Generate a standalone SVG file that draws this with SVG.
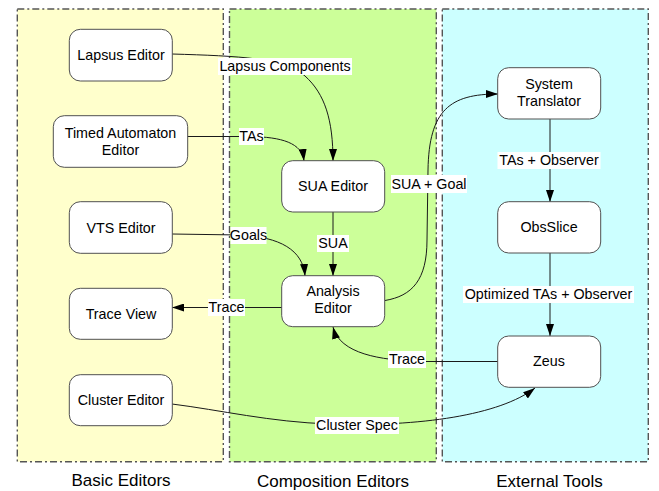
<svg xmlns="http://www.w3.org/2000/svg" width="659" height="491" viewBox="0 0 659 491">
  <style>
    .lane { stroke: #555555; stroke-width: 1.4; stroke-dasharray: 7 3 2 3; }
    .node rect { fill: #ffffff; stroke: #505050; stroke-width: 1; }
    text { font-family: "Liberation Sans", Arial, sans-serif; fill: #000; }
    .nt { font-size: 14.3px; text-anchor: middle; }
    .lt { font-size: 14.3px; text-anchor: middle; }
    .lane-title { font-size: 17px; text-anchor: middle; }
    .edge { fill: none; stroke: #1a1a1a; stroke-width: 1; marker-end: url(#arr); }
    .lbg { fill: #ffffff; }
  </style>
  <defs>
    <marker id="arr" viewBox="0 0 12 8" refX="12" refY="4" markerWidth="12" markerHeight="8" markerUnits="userSpaceOnUse" orient="auto">
      <path d="M0,0 L12,4 L0,8 z" fill="#000"/>
    </marker>
  </defs>

  <rect width="659" height="491" fill="#ffffff"/>

  <!-- swimlanes -->
  <g id="lanes">
    <rect class="lane" x="17.3" y="9" width="206" height="452.7" fill="#ffffcc"/>
    <rect class="lane" x="229.5" y="9" width="206.8" height="452.7" fill="#ccff99"/>
    <rect class="lane" x="442.3" y="9" width="206" height="452.7" fill="#ccffff"/>
    <text class="lane-title" x="121" y="486">Basic Editors</text>
    <text class="lane-title" x="333" y="487">Composition Editors</text>
    <text class="lane-title" x="549.5" y="487">External Tools</text>
  </g>

  <!-- connectors -->
  <g id="connectors">
    <path class="edge" d="M172,54 C240,56 285,58 305,76 C325,94 333,120 333,161"/>
    <path class="edge" d="M187,136.5 L250,136.5 C282,137 302,143 304,161"/>
    <path class="edge" d="M172,234 L240,235 C280,237 303,250 305,276"/>
    <path class="edge" d="M333,212 L333,276"/>
    <path class="edge" d="M282,307.5 L172,307.5"/>
    <path class="edge" d="M385,300.5 C412,296 427,280 427,240 L428,170 C429,110 450,94 498,94"/>
    <path class="edge" d="M550,119 L550,202"/>
    <path class="edge" d="M550,253 L550,336"/>
    <path class="edge" d="M498,361.5 L420,361.5 C380,360 340,354 333,327"/>
    <path class="edge" d="M172,404 C220,410 270,422 330,424 C420,427 500,415 535,388"/>

    <!-- connector labels -->
    <g id="label-lapsus-components">
      <rect class="lbg" x="218" y="58" width="134" height="17"/>
      <text class="lt" x="285" y="71">Lapsus Components</text>
    </g>
    <g id="label-tas">
      <rect class="lbg" x="239" y="128" width="25" height="17"/>
      <text class="lt" x="251.5" y="141">TAs</text>
    </g>
    <g id="label-goals">
      <rect class="lbg" x="230.5" y="227" width="36" height="17"/>
      <text class="lt" x="248.5" y="240">Goals</text>
    </g>
    <g id="label-sua">
      <rect class="lbg" x="317" y="235" width="32" height="17"/>
      <text class="lt" x="333" y="248">SUA</text>
    </g>
    <g id="label-trace-left">
      <rect class="lbg" x="208" y="299" width="37" height="17"/>
      <text class="lt" x="226.5" y="312">Trace</text>
    </g>
    <g id="label-sua-goal">
      <rect class="lbg" x="391" y="175" width="76" height="18"/>
      <text class="lt" x="429" y="188.5">SUA + Goal</text>
    </g>
    <g id="label-tas-observer">
      <rect class="lbg" x="497.5" y="152" width="103" height="17"/>
      <text class="lt" x="549" y="165">TAs + Observer</text>
    </g>
    <g id="label-optimized">
      <rect class="lbg" x="463" y="286" width="171" height="17"/>
      <text class="lt" x="548.5" y="299">Optimized TAs + Observer</text>
    </g>
    <g id="label-trace-right">
      <rect class="lbg" x="388" y="351" width="38" height="17"/>
      <text class="lt" x="407" y="364">Trace</text>
    </g>
    <g id="label-cluster-spec">
      <rect class="lbg" x="315" y="417" width="84" height="17"/>
      <text class="lt" x="357" y="430">Cluster Spec</text>
    </g>
  </g>

  <!-- nodes -->
  <g id="lapsus-editor" class="node">
    <rect x="69.3" y="29.3" width="103" height="51.7" rx="11"/>
    <text class="nt" x="121" y="59.5">Lapsus Editor</text>
  </g>
  <g id="timed-automaton-editor" class="node">
    <rect x="53.3" y="115.7" width="134.4" height="51.6" rx="11"/>
    <text class="nt" x="120.5" y="138">Timed Automaton</text>
    <text class="nt" x="120.5" y="154.5">Editor</text>
  </g>
  <g id="vts-editor" class="node">
    <rect x="69.3" y="201.7" width="103" height="51.6" rx="11"/>
    <text class="nt" x="121" y="232.5">VTS Editor</text>
  </g>
  <g id="trace-view" class="node">
    <rect x="69.3" y="288.3" width="103" height="51" rx="11"/>
    <text class="nt" x="121" y="318.5">Trace View</text>
  </g>
  <g id="cluster-editor" class="node">
    <rect x="69.3" y="374.7" width="103" height="51" rx="11"/>
    <text class="nt" x="121" y="404.5">Cluster Editor</text>
  </g>
  <g id="sua-editor" class="node">
    <rect x="281.7" y="160.7" width="103" height="51.3" rx="11"/>
    <text class="nt" x="333" y="191">SUA Editor</text>
  </g>
  <g id="analysis-editor" class="node">
    <rect x="281.7" y="275.7" width="103" height="51" rx="11"/>
    <text class="nt" x="333" y="296">Analysis</text>
    <text class="nt" x="333" y="312.7">Editor</text>
  </g>
  <g id="system-translator" class="node">
    <rect x="497.7" y="67.7" width="103" height="51.3" rx="11"/>
    <text class="nt" x="549" y="88.5">System</text>
    <text class="nt" x="549" y="105.5">Translator</text>
  </g>
  <g id="obsslice" class="node">
    <rect x="497.7" y="201.7" width="103" height="51.3" rx="11"/>
    <text class="nt" x="549" y="232">ObsSlice</text>
  </g>
  <g id="zeus" class="node">
    <rect x="497.7" y="336" width="103" height="51.3" rx="11"/>
    <text class="nt" x="549" y="366">Zeus</text>
  </g>
</svg>
